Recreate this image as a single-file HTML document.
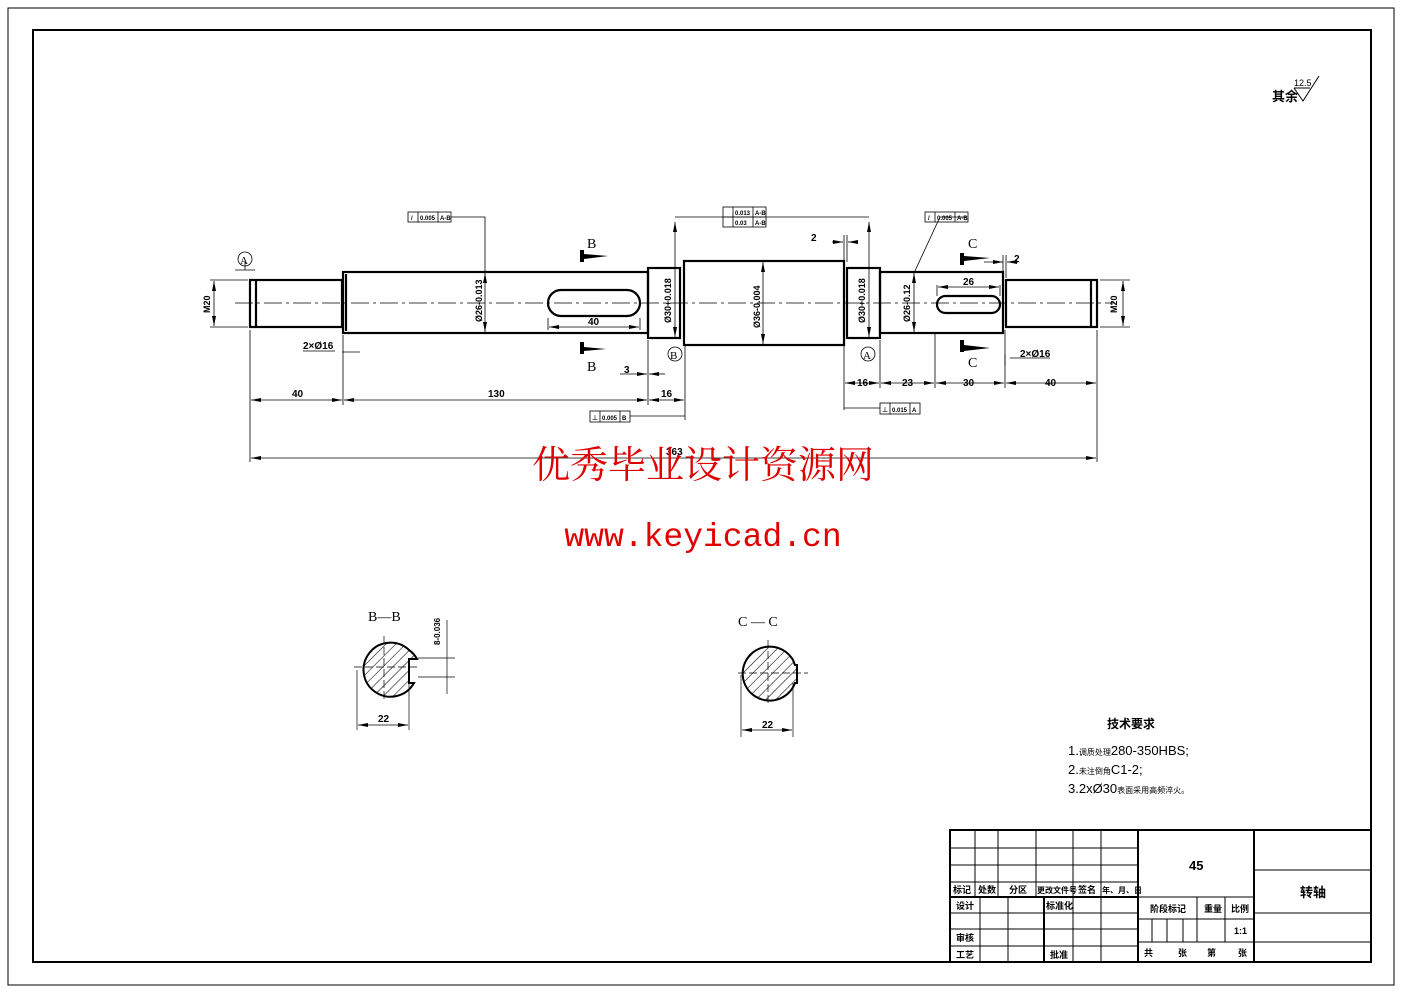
<!DOCTYPE html>
<html><head><meta charset="utf-8"><style>
html,body{margin:0;padding:0;background:#fff}
svg{display:block}
text{font-family:"Liberation Sans","Noto Sans CJK SC",sans-serif;fill:#000}
</style></head><body>
<svg width="1403" height="992" viewBox="0 0 1403 992" xmlns="http://www.w3.org/2000/svg">
<defs>
<pattern id="h" width="7" height="7" patternUnits="userSpaceOnUse" patternTransform="rotate(45)"><line x1="0" y1="0" x2="0" y2="7" stroke="#000" stroke-width="1.1"/></pattern>
<marker id="a" viewBox="0 0 10 4" refX="10" refY="2" markerWidth="10" markerHeight="4" orient="auto-start-reverse" markerUnits="userSpaceOnUse"><path d="M0,0L10,2L0,4z" fill="#000"/></marker>
</defs>
<rect x="8" y="8" width="1386" height="977" fill="none" stroke="#000" stroke-width="1"/>
<rect x="33" y="30" width="1338" height="932" fill="none" stroke="#000" stroke-width="2"/>
<text x="1272" y="101" font-size="13" font-weight="bold">其余</text>
<text x="1294" y="86" font-size="9">12.5</text>
<path d="M1294,88 L1303,101 L1319,76" fill="none" stroke="#000"/><line x1="1294" y1="88" x2="1310" y2="88" stroke="#000"/>
<line x1="235" y1="303" x2="1115" y2="303" stroke="#000" stroke-width="0.8" stroke-dasharray="18,4,3,4"/>
<g fill="none" stroke="#000" stroke-width="2.2">
<rect x="250" y="280" width="92" height="47"/>
<line x1="256" y1="280" x2="256" y2="327"/>
<rect x="343" y="272" width="305" height="61"/>
<line x1="346" y1="274" x2="346" y2="331"/>
<rect x="648" y="268" width="32" height="70"/>
<rect x="684" y="261" width="160" height="84"/>
<rect x="847" y="268" width="33" height="70"/>
<rect x="880" y="272" width="123" height="61"/>
<rect x="1006" y="280" width="91" height="47"/>
<line x1="1091" y1="280" x2="1091" y2="327"/>
<rect x="548" y="290" width="92" height="26" rx="13"/>
<rect x="937" y="296" width="63" height="17" rx="8.5"/>
</g>
<g stroke="#000" stroke-width="0.8" fill="none">
<line x1="250" y1="330" x2="250" y2="462"/><line x1="343" y1="335" x2="343" y2="405"/>
<line x1="648" y1="340" x2="648" y2="405"/><line x1="685" y1="345" x2="685" y2="420"/>
<line x1="1097" y1="330" x2="1097" y2="462"/><line x1="844" y1="345" x2="844" y2="410"/>
<line x1="880" y1="340" x2="880" y2="388"/><line x1="935" y1="333" x2="935" y2="388"/><line x1="1005" y1="330" x2="1005" y2="388"/>
<line x1="251" y1="400" x2="342" y2="400" marker-start="url(#a)" marker-end="url(#a)"/>
<line x1="344" y1="400" x2="647" y2="400" marker-start="url(#a)" marker-end="url(#a)"/>
<line x1="649" y1="400" x2="684" y2="400" marker-start="url(#a)" marker-end="url(#a)"/>
<line x1="845" y1="383" x2="879" y2="383" marker-start="url(#a)" marker-end="url(#a)"/>
<line x1="881" y1="383" x2="934" y2="383" marker-start="url(#a)" marker-end="url(#a)"/>
<line x1="936" y1="383" x2="1004" y2="383" marker-start="url(#a)" marker-end="url(#a)"/>
<line x1="1006" y1="383" x2="1096" y2="383" marker-start="url(#a)" marker-end="url(#a)"/>
<line x1="251" y1="458" x2="1096" y2="458" marker-start="url(#a)" marker-end="url(#a)"/>
<line x1="548" y1="318" x2="548" y2="330"/><line x1="640" y1="318" x2="640" y2="330"/>
<line x1="549" y1="327" x2="639" y2="327" marker-start="url(#a)" marker-end="url(#a)"/>
<line x1="937" y1="285" x2="937" y2="296"/><line x1="1000" y1="285" x2="1000" y2="296"/>
<line x1="938" y1="287" x2="999" y2="287" marker-start="url(#a)" marker-end="url(#a)"/>
<line x1="210" y1="280" x2="248" y2="280"/><line x1="210" y1="327" x2="248" y2="327"/>
<line x1="214" y1="281" x2="214" y2="326" marker-start="url(#a)" marker-end="url(#a)"/>
<line x1="1100" y1="280" x2="1130" y2="280"/><line x1="1100" y1="327" x2="1130" y2="327"/>
<line x1="1123" y1="281" x2="1123" y2="326" marker-start="url(#a)" marker-end="url(#a)"/>
<line x1="485" y1="273" x2="485" y2="332" marker-start="url(#a)" marker-end="url(#a)"/>
<line x1="763" y1="262" x2="763" y2="344" marker-start="url(#a)" marker-end="url(#a)"/>
<line x1="914" y1="273" x2="914" y2="332" marker-start="url(#a)" marker-end="url(#a)"/>
<line x1="675" y1="222" x2="675" y2="337" marker-start="url(#a)" marker-end="url(#a)"/>
<line x1="869" y1="222" x2="869" y2="337" marker-start="url(#a)" marker-end="url(#a)"/>
<line x1="675" y1="217" x2="869" y2="217"/>
<polyline points="451,217 485,217 485,273"/>
<polyline points="966,217 940,217 914,273"/>
<line x1="844" y1="235" x2="844" y2="262"/><line x1="847" y1="235" x2="847" y2="262"/>
<line x1="832" y1="242" x2="843" y2="242" marker-end="url(#a)"/><line x1="858" y1="242" x2="848" y2="242" marker-end="url(#a)"/>
<line x1="984" y1="262" x2="1003" y2="262" marker-end="url(#a)"/><line x1="1018" y1="262" x2="1007" y2="262" marker-end="url(#a)"/>
<line x1="1003" y1="255" x2="1003" y2="272"/><line x1="1006" y1="255" x2="1006" y2="278"/>
<line x1="620" y1="374" x2="647" y2="374" marker-end="url(#a)"/><line x1="665" y1="374" x2="649" y2="374" marker-end="url(#a)"/>
<line x1="342" y1="352" x2="360" y2="352"/><line x1="303" y1="351" x2="335" y2="351"/>
<line x1="1010" y1="358" x2="1050" y2="358"/><line x1="1005" y1="355" x2="1005" y2="365"/>
<polyline points="630,416 685,416"/>
<polyline points="880,408 844,408"/>
<line x1="235" y1="270" x2="255" y2="270"/><line x1="245" y1="262" x2="245" y2="270"/>
<circle cx="245" cy="259" r="7"/><circle cx="675" cy="354" r="7"/><circle cx="868" cy="354" r="7"/>
</g>
<g fill="none" stroke="#000" stroke-width="0.8">
<rect x="408" y="212" width="43" height="10"/><line x1="418" y1="212" x2="418" y2="222"/><line x1="438" y1="212" x2="438" y2="222"/>
<rect x="723" y="207" width="43" height="20"/><line x1="723" y1="217" x2="766" y2="217"/><line x1="733" y1="207" x2="733" y2="227"/><line x1="753" y1="207" x2="753" y2="227"/>
<rect x="925" y="212" width="43" height="10"/><line x1="935" y1="212" x2="935" y2="222"/><line x1="955" y1="212" x2="955" y2="222"/>
<rect x="590" y="411" width="40" height="11"/><line x1="600" y1="411" x2="600" y2="422"/><line x1="620" y1="411" x2="620" y2="422"/>
<rect x="880" y="403" width="40" height="11"/><line x1="890" y1="403" x2="890" y2="414"/><line x1="910" y1="403" x2="910" y2="414"/>
</g>
<g font-size="6" font-weight="bold">
<text x="411" y="220">/</text><text x="420" y="220">0.005</text><text x="440" y="220">A-B</text>
<text x="735" y="215">0.013</text><text x="755" y="215">A-B</text><text x="735" y="225">0.03</text><text x="755" y="225">A-B</text>
<text x="928" y="220">/</text><text x="937" y="220">0.005</text><text x="957" y="220">A-B</text>
<text x="592" y="420">⊥</text><text x="602" y="420">0.005</text><text x="622" y="420">B</text>
<text x="882" y="412">⊥</text><text x="892" y="412">0.015</text><text x="912" y="412">A</text>
</g>
<g fill="#000">
<rect x="580" y="250" width="4" height="12"/><path d="M584,254 L608,256 L584,259z"/>
<rect x="580" y="342" width="4" height="12"/><path d="M584,347 L606,349 L584,351z"/>
<rect x="960" y="253" width="4" height="12"/><path d="M964,256 L990,258 L964,261z"/>
<rect x="960" y="340" width="4" height="12"/><path d="M964,345 L990,348 L964,351z"/>
</g>
<g font-size="14">
<text x="587" y="248" style="font-family:'Liberation Serif',serif">B</text>
<text x="587" y="371" style="font-family:'Liberation Serif',serif">B</text>
<text x="968" y="248" style="font-family:'Liberation Serif',serif">C</text>
<text x="968" y="367" style="font-family:'Liberation Serif',serif">C</text>
<text x="240" y="264" font-size="11" style="font-family:'Liberation Serif',serif">A</text>
<text x="670" y="359" font-size="11" style="font-family:'Liberation Serif',serif">B</text>
<text x="863" y="359" font-size="11" style="font-family:'Liberation Serif',serif">A</text>
</g>
<g font-size="10" font-weight="bold">
<text x="292" y="397">40</text><text x="488" y="397">130</text><text x="661" y="397">16</text>
<text x="857" y="386">16</text><text x="902" y="386">23</text><text x="963" y="386">30</text><text x="1045" y="386">40</text>
<text x="666" y="455">363</text><text x="588" y="325">40</text><text x="963" y="285">26</text>
<text x="811" y="241">2</text><text x="1014" y="262">2</text><text x="624" y="373">3</text>
<text x="303" y="349">2×Ø16</text><text x="1020" y="357">2×Ø16</text>
</g>
<g font-size="9" font-weight="bold">
<text transform="translate(210,313) rotate(-90)">M20</text>
<text transform="translate(1117,313) rotate(-90)">M20</text>
<text transform="translate(482,322) rotate(-90)">Ø26-0.013</text>
<text transform="translate(671,323) rotate(-90)">Ø30+0.018</text>
<text transform="translate(760,328) rotate(-90)">Ø36-0.004</text>
<text transform="translate(865,323) rotate(-90)">Ø30+0.018</text>
<text transform="translate(910,322) rotate(-90)">Ø26-0.12</text>
</g>
<text x="703" y="478" font-size="38" text-anchor="middle" style="fill:#e00000;font-family:'Liberation Serif','Noto Serif CJK SC',serif">优秀毕业设计资源网</text>
<text x="703" y="546" font-size="33" text-anchor="middle" style="fill:#e00000;font-family:'Liberation Mono',monospace">www.keyicad.cn</text>
<text x="368" y="621" font-size="14" style="font-family:'Liberation Serif',serif">B—B</text>
<text x="738" y="626" font-size="14" style="font-family:'Liberation Serif',serif">C — C</text>
<g stroke="#000">
<path d="M409,650 A27,27 0 1,0 414,683 L409,683 L409,659 L417,659 A27,27 0 0,0 409,650z" fill="url(#h)" stroke-width="2"/>
<path d="M793,660 A27,27 0 1,0 795,683 L797,683 L797,665 L795,665 z" fill="url(#h)" stroke-width="2"/>
<g stroke-width="0.7" fill="none">
<line x1="384" y1="636" x2="384" y2="700" stroke-dasharray="8,3"/><line x1="354" y1="667" x2="420" y2="667" stroke-dasharray="8,3"/>
<line x1="768" y1="640" x2="768" y2="706" stroke-dasharray="8,3"/><line x1="738" y1="673" x2="808" y2="673" stroke-dasharray="8,3"/>
<line x1="357" y1="670" x2="357" y2="730"/><line x1="409" y1="683" x2="409" y2="730"/>
<line x1="358" y1="725" x2="408" y2="725" marker-start="url(#a)" marker-end="url(#a)"/>
<line x1="741" y1="675" x2="741" y2="737"/><line x1="793" y1="683" x2="793" y2="737"/>
<line x1="742" y1="730" x2="792" y2="730" marker-start="url(#a)" marker-end="url(#a)"/>
<line x1="418" y1="658" x2="455" y2="658"/><line x1="418" y1="677" x2="455" y2="677"/>
<line x1="447" y1="620" x2="447" y2="694"/>
</g></g>
<text x="378" y="722" font-size="10" font-weight="bold">22</text>
<text x="762" y="728" font-size="10" font-weight="bold">22</text>
<text transform="translate(440,645) rotate(-90)" font-size="8" font-weight="bold">8-0.036</text>
<text x="1107" y="728" font-size="12" font-weight="bold">技术要求</text>
<text x="1068" y="755" font-size="13">1.<tspan font-size="8">调质处理</tspan>280-350HBS;</text>
<text x="1068" y="774" font-size="13">2.<tspan font-size="8">未注倒角</tspan>C1-2;</text>
<text x="1068" y="793" font-size="13">3.2xØ30<tspan font-size="8">表面采用高频淬火。</tspan></text>
<g stroke="#000" fill="none">
<rect x="950" y="830" width="421" height="132" stroke-width="2"/>
<line x1="1138" y1="830" x2="1138" y2="962" stroke-width="2"/><line x1="1254" y1="830" x2="1254" y2="962" stroke-width="2"/>
<g stroke-width="1">
<line x1="950" y1="848" x2="1138" y2="848"/><line x1="950" y1="865" x2="1138" y2="865"/><line x1="950" y1="882" x2="1138" y2="882"/>
<line x1="950" y1="897" x2="1138" y2="897" stroke-width="2"/><line x1="950" y1="913" x2="1138" y2="913"/><line x1="950" y1="929" x2="1138" y2="929"/><line x1="950" y1="946" x2="1138" y2="946"/>
<line x1="975" y1="830" x2="975" y2="897"/><line x1="998" y1="830" x2="998" y2="897"/><line x1="1036" y1="830" x2="1036" y2="897"/><line x1="1073" y1="830" x2="1073" y2="962"/><line x1="1101" y1="830" x2="1101" y2="962"/>
<line x1="980" y1="897" x2="980" y2="962"/><line x1="1008" y1="897" x2="1008" y2="962"/><line x1="1044" y1="897" x2="1044" y2="962" stroke-width="2"/>
<line x1="1138" y1="897" x2="1254" y2="897"/><line x1="1138" y1="919" x2="1254" y2="919"/><line x1="1138" y1="942" x2="1254" y2="942"/>
<line x1="1197" y1="897" x2="1197" y2="942"/><line x1="1225" y1="897" x2="1225" y2="942"/>
<line x1="1152" y1="919" x2="1152" y2="942"/><line x1="1167" y1="919" x2="1167" y2="942"/><line x1="1183" y1="919" x2="1183" y2="942"/>
<line x1="1254" y1="870" x2="1371" y2="870"/><line x1="1254" y1="913" x2="1371" y2="913"/><line x1="1254" y1="942" x2="1371" y2="942"/>
</g></g>
<g font-size="9" font-weight="bold">
<text x="953" y="893">标记</text><text x="978" y="893">处数</text><text x="1009" y="893">分区</text><text x="1037" y="893" font-size="8">更改文件号</text><text x="1078" y="893">签名</text><text x="1102" y="893" font-size="8">年、月、日</text>
<text x="956" y="909">设计</text><text x="1046" y="909">标准化</text><text x="956" y="941">审核</text><text x="956" y="958">工艺</text><text x="1050" y="958">批准</text>
<text x="1150" y="912">阶段标记</text><text x="1204" y="912">重量</text><text x="1231" y="912">比例</text><text x="1234" y="934">1:1</text>
<text x="1144" y="956">共</text><text x="1178" y="956">张</text><text x="1207" y="956">第</text><text x="1238" y="956">张</text>
</g>
<text x="1189" y="870" font-size="13" font-weight="bold">45</text>
<text x="1300" y="897" font-size="13" font-weight="bold">转轴</text>
</svg>
</body></html>
